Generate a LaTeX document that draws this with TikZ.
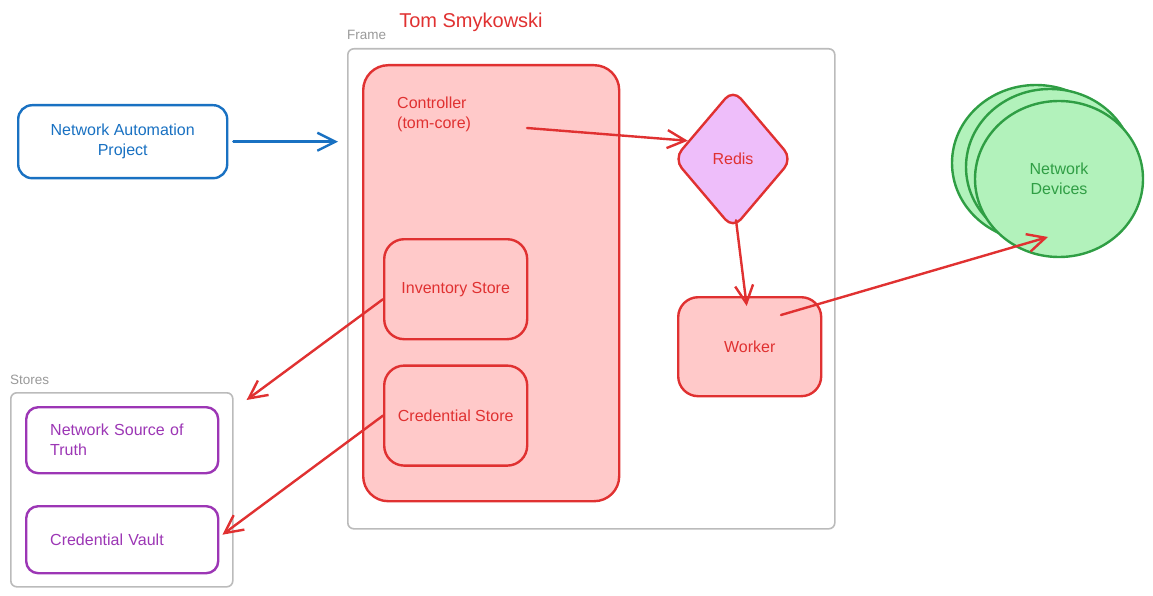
\documentclass[tikz,border=0pt]{standalone}
\usepackage{fontspec}
\setmainfont{Liberation Sans}
\usepackage{tikz}
\usetikzlibrary{
  shapes.geometric,
  arrows.meta,
  positioning
}
\definecolor{exred}{HTML}{E03131}
\definecolor{exredfill}{HTML}{FFC9C9}
\definecolor{exblue}{HTML}{1971C2}
\definecolor{expurple}{HTML}{9C36B5}
\definecolor{exviolet}{HTML}{EEBEFA}
\definecolor{exgreen}{HTML}{2F9E44}
\definecolor{exgreenfill}{HTML}{B2F2BB}
\definecolor{exgray}{HTML}{BBBBBB}
\definecolor{exgraytext}{HTML}{999999}
\tikzset{
  handtext/.style={font=\fontsize{16}{20}\selectfont},
  groupbox/.style={draw=exgray, line width=1.6pt, rounded corners=6pt, inner sep=0pt},
  grouplabel/.style={text=exgraytext, font=\fontsize{13.5}{16}\selectfont, inner sep=0pt},
  redbox/.style={draw=exred, fill=exredfill, line width=2.4pt, rounded corners=20pt, text=exred, handtext, inner sep=0pt},
  bluebox/.style={draw=exblue, fill=white, line width=2.4pt, rounded corners=14pt, text=exblue, handtext, align=center, inner sep=0pt},
  purplebox/.style={draw=expurple, fill=white, line width=2.4pt, rounded corners=12pt, text=expurple, handtext, align=left, inner xsep=24pt, text width=144pt},
  greenball/.style={ellipse, draw=exgreen, fill=exgreenfill, line width=2.4pt, minimum width=168pt, minimum height=156pt, inner sep=0pt},
  redarrow/.style={draw=exred, line width=2.4pt},
  bluearrow/.style={draw=exblue, line width=2.4pt}
}

\begin{document}
\begin{tikzpicture}[x=1pt,y=-1pt,line cap=round,line join=round,>={Straight Barb[length=18pt,width=18pt]}]
\useasboundingbox (0,0) rectangle (1153,596);
% groups
\node[groupbox, minimum width=487pt, minimum height=480pt, anchor=north west] (frame) at (347,48) {};
\node[grouplabel, anchor=base west] (framelabel) at (347,40) {Frame};
\node[text=exred, font=\fontsize{20}{24}\selectfont, anchor=base] (title) at (471,28) {Tom Smykowski};
\node[groupbox, minimum width=222pt, minimum height=194pt, anchor=north west] (stores) at (10,392) {};
\node[grouplabel, anchor=base west] (storeslabel) at (10,384) {Stores};

% controller and its stores
\node[redbox, rounded corners=25pt, minimum width=256pt, minimum height=436pt, anchor=north west] (ctrl) at (362,64) {};
\node[text=exred, handtext, align=left, anchor=north west, inner sep=0pt] (ctrltext) at (397,97) {Controller\\(tom-core)};
\node[redbox, minimum width=143pt, minimum height=100pt, anchor=north west] (inv) at (383,238) {Inventory Store};
\node[redbox, minimum width=143pt, minimum height=100pt, below=24pt of inv] (cred) {Credential Store};

% right side
\node[redbox, diamond, fill=exviolet, rounded corners=12pt, minimum width=119pt, minimum height=140pt] (redis) at (733,159) {Redis};
\node[redbox, minimum width=143pt, minimum height=99pt, anchor=north west] (worker) at (677,296) {Worker};
\node[greenball] (ndback1) at (1036,163) {};
\node[greenball] (ndback2) at (1050,167) {};
\node[greenball, text=exgreen, handtext, align=center] (nd) at (1059,179) {Network\\Devices};

% left side
\node[bluebox, minimum width=209pt, minimum height=73pt, anchor=north west] (nap) at (17,104) {Network Automation\\Project};
\node[purplebox, minimum height=66pt, anchor=north west] (nsot) at (25,406) {Network Source of\\Truth};
\node[purplebox, minimum height=67pt, anchor=north west] (vault) at (25,505) {Credential Vault};

% connectors
\coordinate (ctrlout) at (527,128);
\coordinate (wkout) at (781,315);
\draw[bluearrow,->,shorten <=5pt,shorten >=9pt] (nap.east) -- (nap.east -| frame.west);
\draw[redarrow,->] (ctrlout) -- (redis.158);
\draw[redarrow,->] ([shift={(3,-10)}]redis.south) -- ([shift={(-3,10)}]worker.north);
\draw[redarrow,->] (wkout) -- ([shift={(-11,58)}]nd.center);
\draw[redarrow,->] ([shift={(0,10)}]inv.west) -- ([shift={(13,8)}]stores.north east);
\draw[redarrow,->] (cred.west) -- ([shift={(3,-5)}]vault.east);
\end{tikzpicture}
\end{document}
